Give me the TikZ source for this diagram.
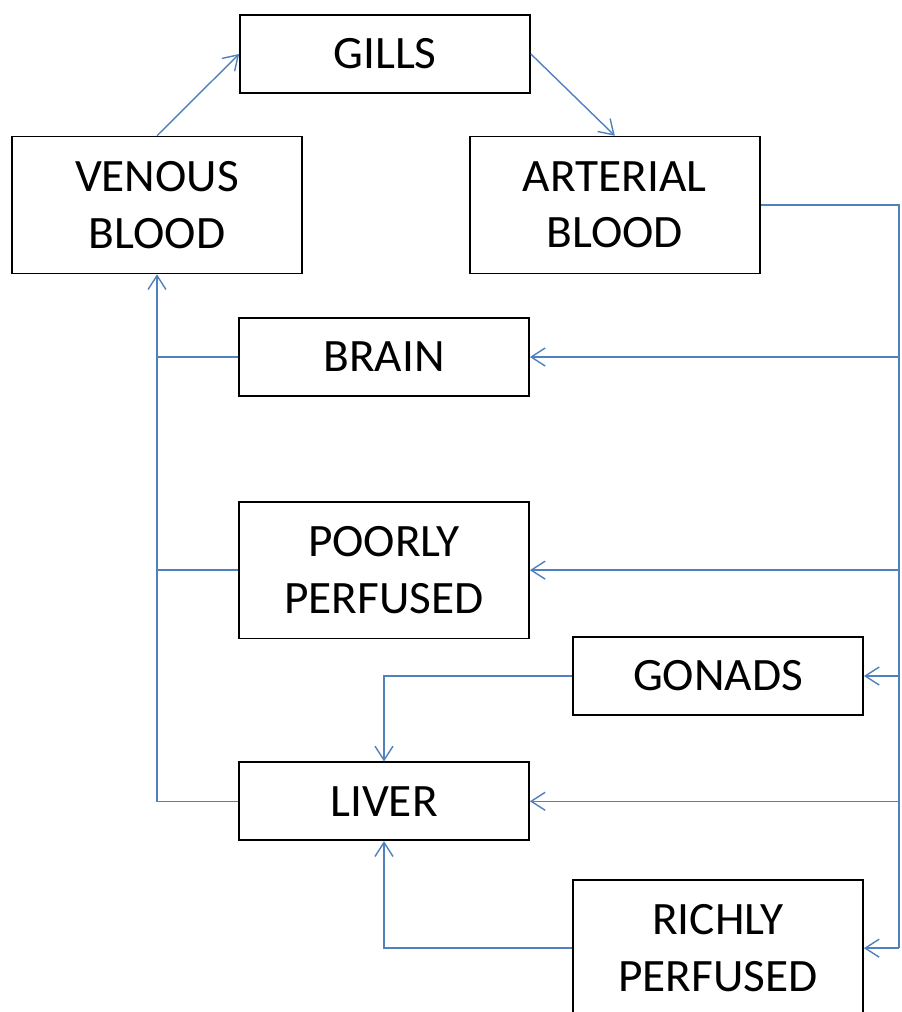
\documentclass[tikz,border=0pt]{standalone}
\usepackage{fontspec}
\setmainfont{Carlito}[FakeStretch=1.02]
\usetikzlibrary{arrows.meta,positioning}
\definecolor{fishBlue}{RGB}{79,129,189}

\begin{document}
\begin{tikzpicture}[
  x=0.025cm,
  y=-0.025cm,
  organ/.style={
    draw,
    line width=1.2pt,
    minimum width=7.25cm,
    minimum height=1.95cm,
    inner sep=0pt,
    align=center,
    font=\fontsize{33}{40}\selectfont
  },
  organtall/.style={organ,minimum height=3.42cm},
  link/.style={fishBlue,line width=1pt},
  arrow/.style={link,-{Straight Barb[length=3.5mm,width=4.5mm]}}
]
  \clip (0,0) rectangle (901,1012);
  \node[organtall] (venous) at (157,205) {VENOUS\\BLOOD};
  \node[organ] (gills) at (385,54) {GILLS};
  \node[organtall,right=4.15cm of venous] (arterial) {ARTERIAL\\BLOOD};
  \node[organ] (brain) at (384,357) {BRAIN};
  \node[organtall,below=2.6cm of brain] (poorly) {POORLY\\PERFUSED};
  \node[organ,below=3.05cm of poorly] (liver) {LIVER};
  \node[organ] (gonads) at (718,676) {GONADS};
  \node[organtall,below=4.075cm of gonads] (richly) {RICHLY\\PERFUSED};
  \coordinate (feed) at (899,0);
  \draw[arrow] (venous.north) -- (gills.west);
  \draw[arrow] (gills.east) -- (arterial.north);
  \draw[link] (arterial.east) -| (feed |- richly.east);
  \foreach \organ in {brain,poorly,gonads,liver,richly}
    \draw[arrow] (feed |- \organ.east) -- (\organ.east);
  \foreach \organ in {brain,poorly}
    \draw[link] (\organ.west) -- (\organ.west -| venous.south);
  \draw[arrow] (liver.west) -| (venous.south);
  \draw[arrow] (gonads.west) -| (liver.north);
  \draw[arrow] (richly.west) -| (liver.south);
\end{tikzpicture}
\end{document}
